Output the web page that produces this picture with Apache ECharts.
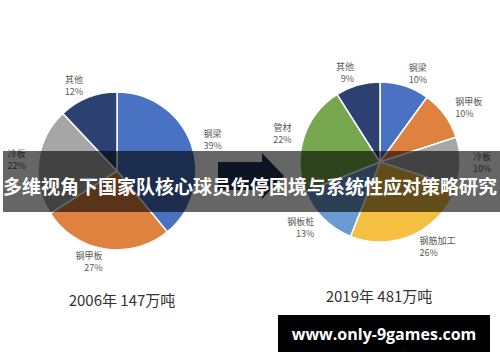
<!DOCTYPE html>
<html>
<head>
<meta charset="utf-8">
<script src="https://cdn.jsdelivr.net/npm/echarts@6/dist/echarts.min.js"></script>
<style>
html,body{margin:0;padding:0;background:#fff;}
#c{width:500px;height:362px;}
</style>
</head>
<body>
<div id="c"></div>
<script>
const leftTitle = '2006年 147万吨';
const rightTitle = '2019年 481万吨';
const leftCategories = ['钢梁', '钢甲板', '冷板', '其他'];
const leftValues = [39, 27, 22, 12];
const rightCategories = ['钢梁', '钢甲板', '冷板', '钢筋加工', '钢板桩', '管材', '其他'];
const rightValues = [10, 10, 10, 26, 13, 22, 9];
const bannerText = '多维视角下国家队核心球员伤停困境与系统性应对策略研究';
const watermarkText = 'www.only-9games.com';

const colorMap = {
  '钢梁': '#4a72c2',
  '钢甲板': '#e0823f',
  '冷板': '#a6a6a6',
  '其他': '#2c4172',
  '钢筋加工': '#f5bf42',
  '钢板桩': '#6a9bd3',
  '管材': '#77a84f'
};

const font = '"Noto Sans CJK SC", "Noto Sans", sans-serif';

function buildData(cats, vals) {
  return cats.map((c, i) => ({ name: c, value: vals[i], itemStyle: { color: colorMap[c] } }));
}

function pieSeries(cats, vals, center, radius) {
  return {
    type: 'pie',
    center: center,
    radius: radius,
    startAngle: 90,
    clockwise: true,
    avoidLabelOverlap: false,
    animation: false,
    silent: true,
    data: buildData(cats, vals),
    itemStyle: { borderColor: '#ffffff', borderWidth: 1.5 },
    label: {
      show: true,
      position: 'outside',
      formatter: '{b}\n{c}%',
      color: '#595959',
      fontSize: 9,
      lineHeight: 12,
      fontFamily: font,
      distanceToLabelLine: 0
    },
    labelLine: { show: false, length: 13, length2: 0 }
  };
}

const chart = echarts.init(document.getElementById('c'), null, { renderer: 'svg' });
chart.setOption({
  backgroundColor: '#ffffff',
  animation: false,
  series: [
    pieSeries(leftCategories, leftValues, [117, 171], 79),
    pieSeries(rightCategories, rightValues, [380, 162], 80)
  ],
  graphic: [
    {
      type: 'polygon',
      z: 5,
      shape: { points: [[218, 162], [262, 162], [262, 153], [284, 176], [262, 199], [262, 190], [218, 190]] },
      style: { fill: '#22335a' }
    },
    {
      type: 'text', z: 10, x: 122, y: 299,
      style: { text: leftTitle, fill: '#333333', font: '15px ' + font, textAlign: 'center', textVerticalAlign: 'middle' }
    },
    {
      type: 'text', z: 10, x: 379, y: 295,
      style: { text: rightTitle, fill: '#333333', font: '15px ' + font, textAlign: 'center', textVerticalAlign: 'middle' }
    },
    {
      type: 'rect', z: 100,
      shape: { x: 3, y: 151, width: 497, height: 61 },
      style: { fill: 'rgba(0,0,0,0.6)' }
    },
    {
      type: 'text', z: 101, x: 250, y: 185,
      style: { text: bannerText, fill: '#ffffff', font: 'bold 19px ' + font, textAlign: 'center', textVerticalAlign: 'middle' }
    },
    {
      type: 'rect', z: 100,
      shape: { x: 278, y: 315, width: 212, height: 37 },
      style: { fill: '#000000' }
    },
    {
      type: 'text', z: 101, x: 384, y: 334,
      style: { text: watermarkText, fill: '#ffffff', font: 'bold 16px "Open Sans", "DejaVu Sans", sans-serif', textAlign: 'center', textVerticalAlign: 'middle' }
    }
  ]
});
</script>
</body>
</html>
